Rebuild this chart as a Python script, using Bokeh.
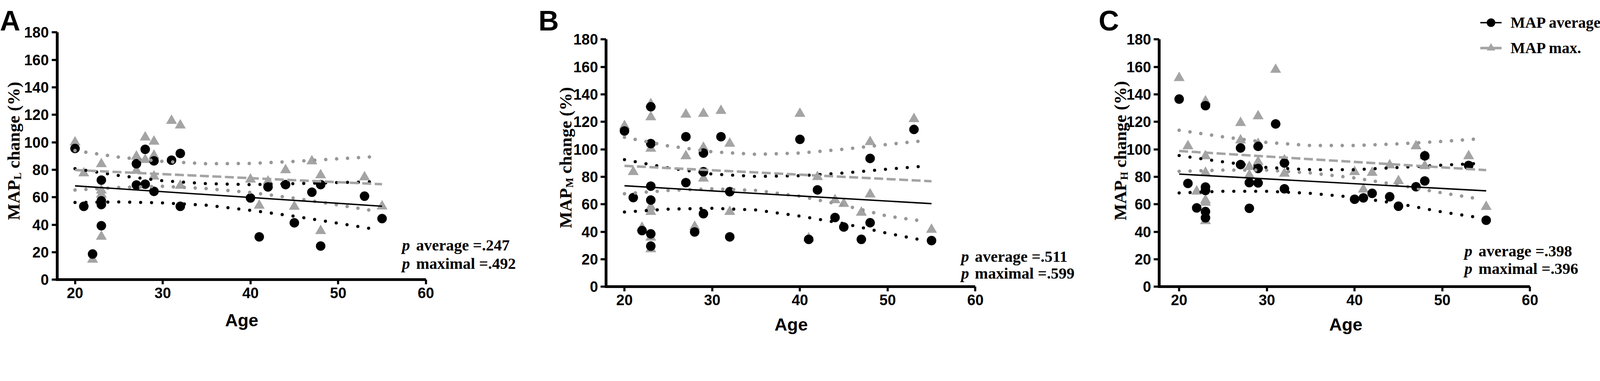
import math
from bokeh.plotting import figure
from bokeh.layouts import row
from bokeh.models import Label, Legend, LegendItem, FixedTicker, Range1d, LinearAxis
from bokeh.embed import file_html
from bokeh.resources import INLINE

# ---------------- data ----------------
x_ticks = [20, 30, 40, 50, 60]
y_ticks = [0, 20, 40, 60, 80, 100, 120, 140, 160, 180]
band_ages = [20, 25, 30, 35, 40, 45, 50, 54]
fit_ages = [20, 55]

# Panel A (MAP_L)
ages_avg_A = [20, 21, 22, 23, 23, 23, 23, 27, 27, 28, 28, 29, 29, 31, 32, 32, 40, 41, 42, 44, 45, 47, 48, 48, 53, 55]
avg_A = [95.5, 53.4, 18.7, 72.5, 57.4, 54.7, 39.3, 84.4, 68.9, 94.9, 69.5, 86.5, 64.3, 87, 91.9, 53.4, 59.5, 31.2, 67.5, 69.2, 41.4, 63.7, 69.2, 24.5, 60.8, 44.5]
ages_max_A = [20, 21, 22, 23, 23, 23, 23, 27, 27, 28, 28, 29, 29, 29, 31, 32, 32, 40, 41, 42, 44, 45, 47, 48, 48, 53, 55]
max_A = [100, 77.5, 14.7, 84.2, 65, 62, 31.4, 89.7, 79.4, 103.6, 87.3, 100.6, 90.3, 75.2, 115.7, 112.4, 68.5, 73, 54, 71.5, 79.8, 53.2, 86.3, 76.1, 35.5, 74.6, 53.4]
fit_avg_A = [68.3, 53.5]
fit_max_A = [79.8, 69.5]
avg_hi_A = [80.8, 75.8, 72, 69.9, 69.2, 69.9, 70.7, 71.3]
avg_lo_A = [56.2, 56.6, 55.9, 54.2, 50.5, 46.2, 41.1, 36.9]
max_hi_A = [94, 89.2, 86.1, 84.4, 84.6, 86.1, 88, 89.5]
max_lo_A = [65.3, 67.1, 68, 66.3, 63.5, 59.3, 54.4, 50.2]

# Panel B (MAP_M)
ages_avg_B = [20, 21, 22, 23, 23, 23, 23, 23, 23, 27, 27, 28, 29, 29, 29, 31, 32, 32, 40, 41, 42, 44, 45, 47, 48, 48, 53, 55]
avg_B = [113.4, 64.9, 40.9, 131, 104.2, 73.2, 63.1, 38.5, 29.6, 109.2, 75.8, 39.9, 97.3, 83.7, 53.2, 109.2, 69.2, 36.3, 107.3, 34.5, 70.5, 50.4, 43.5, 34.5, 93.4, 46.6, 114.5, 33.6]
ages_max_B = [20, 21, 22, 23, 23, 23, 23, 23, 23, 23, 27, 27, 28, 29, 29, 29, 31, 32, 32, 40, 41, 42, 44, 45, 47, 48, 48, 53, 55]
max_B = [117, 83.6, 43, 133, 123.5, 100.6, 58, 54.6, 35.9, 27.4, 125.4, 95.1, 43.7, 126, 101.2, 78.8, 128.1, 104.2, 54.6, 126, 35.3, 80, 63.1, 60.4, 54, 105.4, 67.3, 122.1, 41.6]
fit_avg_B = [73.5, 60.5]
fit_max_B = [88, 76.8]
avg_hi_B = [92.5, 86.5, 82, 80.3, 80.8, 82.8, 85.6, 87.7]
avg_lo_B = [54.4, 56.5, 57.1, 55.9, 51.4, 46, 38.9, 33.9]
max_hi_B = [108.8, 102.5, 98.2, 96.4, 97.3, 100.1, 103.6, 106.2]
max_lo_B = [67.7, 70.1, 71.3, 70.1, 65.9, 59.3, 51.4, 47.8]

# Panel C (MAP_H)
ages_avg_C = [20, 21, 22, 23, 23, 23, 23, 23, 27, 27, 28, 28, 29, 29, 29, 31, 32, 32, 40, 41, 42, 44, 45, 47, 48, 48, 53, 55]
avg_C = [136.6, 75.2, 57.4, 131.8, 72.6, 70.1, 54.7, 50.2, 101, 88.9, 75.8, 57.1, 102.2, 86.1, 75.6, 118.5, 90.1, 71.3, 63.7, 64.7, 68, 65.5, 58.6, 72.8, 95.3, 77, 88.3, 48.4]
ages_max_C = [20, 21, 22, 23, 23, 23, 23, 23, 23, 27, 27, 28, 28, 29, 29, 29, 31, 32, 32, 40, 41, 42, 44, 45, 47, 48, 48, 53, 55]
max_C = [152, 102.4, 69.4, 135, 95.1, 83, 63, 61.3, 47.9, 119.3, 106.6, 87.3, 81.2, 124.2, 104, 90.9, 158, 92.1, 82.4, 83.6, 70.9, 83, 88.5, 77, 102.4, 95.1, 87.9, 95.1, 58.2]
fit_avg_C = [82, 69.8]
fit_max_C = [98.8, 84.9]
avg_hi_C = [95.5, 90.9, 86.8, 85.2, 85.2, 86.8, 88.5, 89.7]
avg_lo_C = [68.3, 69.5, 69.5, 68, 65.1, 60.5, 54.4, 50.5]
max_hi_C = [113.9, 109.1, 105, 102.8, 102.8, 104, 105.8, 107.6]
max_lo_C = [84, 84.9, 84.9, 82.8, 79.2, 74, 68.3, 64.1]

p_texts = {"A": (".247", ".492"), "B": (".511", ".599"), "C": (".398", ".396")}
subs = {"A": "L", "B": "M", "C": "H"}
legend_labels = ["MAP average", "MAP max."]

# ---------------- styling / layout ----------------
K = 0.903          # page px per reference px
SANS = "Liberation Sans"
SERIF = "Liberation Serif"
GRAY = "#a4a4a4"
GRAY_DOT = "#989898"
SX = 24.87   # reference px per year
SY = 3.894   # reference px per percent
HEIGHT = int(975 * K) - 17


def fs(v):
    return f"{v * K:.1f}px"


layout_cfg = {
    "A": dict(ref_l=0, ref_r=1520, axis_x=170, x20=221.0, y0=801, letter_x=8,
              ylab_x=47, ylab_y=632, age_base=916, p_x=1148, rest_x=1188, b1=703, b2=755),
    "B": dict(ref_l=1520, ref_r=3090, axis_x=1727, x20=1778.7, y0=821, letter_x=1535,
              ylab_x=1612, ylab_y=655, age_base=928, p_x=2733, rest_x=2772, b1=735, b2=783),
    "C": dict(ref_l=3090, ref_r=4563, axis_x=3295, x20=3351.2, y0=821, letter_x=3123,
              ylab_x=3184, ylab_y=633, age_base=928, p_x=4160, rest_x=4200, b1=720, b2=770),
}
SUB_W = {"L": 0.667, "M": 0.944, "H": 0.778}

series = {
    "A": (ages_avg_A, avg_A, ages_max_A, max_A, fit_avg_A, fit_max_A, avg_hi_A, avg_lo_A, max_hi_A, max_lo_A),
    "B": (ages_avg_B, avg_B, ages_max_B, max_B, fit_avg_B, fit_max_B, avg_hi_B, avg_lo_B, max_hi_B, max_lo_B),
    "C": (ages_avg_C, avg_C, ages_max_C, max_C, fit_avg_C, fit_max_C, avg_hi_C, avg_lo_C, max_hi_C, max_lo_C),
}


def build(key, with_legend=False):
    cfg = layout_cfg[key]
    (ages_avg, avg, ages_max, mx, f_avg, f_max, a_hi, a_lo, m_hi, m_lo) = series[key]
    left_css = max(8, int(round(cfg["ref_l"] * K)))
    right_css = int(round(cfg["ref_r"] * K)) - (8 if cfg["ref_r"] >= 4563 else 0)
    width = right_css - left_css

    def X(ref_px):
        return 20 + (ref_px - cfg["x20"]) / SX

    def Y(ref_py):
        return (cfg["y0"] - ref_py) / SY

    x_start, x_end = X(left_css / K), X(right_css / K)
    y_end, y_start = Y(8 / K), Y((8 + HEIGHT) / K)

    p = figure(width=width, height=HEIGHT,
               x_range=Range1d(x_start, x_end), y_range=Range1d(y_start, y_end),
               output_backend="svg", toolbar_location=None,
               x_axis_location=None, y_axis_location=None,
               min_border=0, min_border_left=0, min_border_right=0,
               min_border_top=0, min_border_bottom=0)
    p.background_fill_color = "white"
    p.border_fill_color = "white"
    p.outline_line_color = None
    p.grid.visible = False

    xaxis = LinearAxis(fixed_location=0, ticker=FixedTicker(ticks=x_ticks),
                       bounds=(X(cfg["axis_x"] - 4), 60))
    yaxis = LinearAxis(fixed_location=X(cfg["axis_x"]), ticker=FixedTicker(ticks=y_ticks),
                       bounds=(0, 180))
    for ax in (xaxis, yaxis):
        ax.axis_line_width = 8 * K
        ax.axis_line_color = "black"
        ax.major_tick_line_width = 6 * K
        ax.major_tick_line_color = "black"
        ax.major_tick_in = 0
        ax.minor_tick_line_color = None
        ax.major_label_text_font = SANS
        ax.major_label_text_font_style = "bold"
        ax.major_label_text_font_size = fs(42)
        ax.major_label_text_color = "black"
    yaxis.major_tick_out = int(round(15 * K))
    yaxis.major_label_standoff = int(round(8 * K))
    xaxis.major_tick_out = int(round(13 * K))
    xaxis.major_label_standoff = int(round(9 * K))
    p.add_layout(xaxis, "below")
    p.add_layout(yaxis, "left")

    tri = p.scatter(ages_max, mx, marker="triangle", size=31 * K, fill_color=GRAY, line_color=None)
    circ = p.scatter(ages_avg, avg, marker="circle", size=27 * K, fill_color="black", line_color=None)
    dot_gap = str(int(round(31 * K)))
    for band, col, w in ((m_hi, GRAY_DOT, 10), (m_lo, GRAY_DOT, 10), (a_hi, "black", 9), (a_lo, "black", 9)):
        p.line(band_ages, band, line_color=col, line_width=w * K, line_dash="0 " + dot_gap, line_cap="round")
    dash = f"{int(round(26 * K))} {int(round(10 * K))}"
    lmax = p.line(fit_ages, f_max, line_color=GRAY, line_width=7 * K, line_dash=dash)
    lavg = p.line(fit_ages, f_avg, line_color="black", line_width=4 * K)

    def label(x, y, text, font, style, size, align="left", angle=0.0):
        p.add_layout(Label(x=x, y=y, text=text, text_font=font, text_font_style=style,
                           text_font_size=fs(size), text_baseline="alphabetic",
                           text_align=align, angle=angle, text_color="black"))

    # panel letter
    label(X(cfg["letter_x"]), Y(67), key, SANS, "bold", 80)
    # y-axis title: MAP_sub change (%)
    f_main, f_sub = 50, 30
    w_map = 2.277 * f_main
    w_sub = SUB_W[subs[key]] * f_sub
    gap = 0.25 * f_main
    y_s = cfg["ylab_y"]
    label(X(cfg["ylab_x"]), Y(y_s), "MAP", SERIF, "bold", f_main, angle=math.pi / 2)
    label(X(cfg["ylab_x"] + 11), Y(y_s - w_map - 1), subs[key], SERIF, "bold", f_sub, angle=math.pi / 2)
    label(X(cfg["ylab_x"]), Y(y_s - w_map - w_sub - gap), "change (%)", SERIF, "bold", f_main,
          angle=math.pi / 2)
    # x-axis title
    label(39, Y(cfg["age_base"]), "Age", SANS, "bold", 50, align="center")
    # p values
    pa, pm = p_texts[key]
    for base, word, val in ((cfg["b1"], "average", pa), (cfg["b2"], "maximal", pm)):
        label(X(cfg["p_x"]), Y(base), "p", SERIF, "bold italic", 45)
        label(X(cfg["rest_x"]), Y(base), f"{word} ={val}", SERIF, "bold", 45)

    if with_legend:
        loc_x = int(round(4205 * K)) - left_css
        loc_y = int(round(HEIGHT - (178 * K - 8)))
        legend = Legend(items=[LegendItem(label=legend_labels[0], renderers=[lavg, circ]),
                               LegendItem(label=legend_labels[1], renderers=[lmax, tri])],
                        location=(loc_x, loc_y),
                        orientation="vertical", glyph_width=int(62 * K), glyph_height=int(68 * K),
                        label_height=int(68 * K), label_standoff=int(26 * K), spacing=int(5 * K),
                        padding=0, margin=0,
                        border_line_color=None, background_fill_alpha=0,
                        label_text_font=SERIF, label_text_font_style="bold",
                        label_text_font_size=fs(44), label_text_color="black")
        p.add_layout(legend)
    return p


pA = build("A")
pB = build("B")
pC = build("C", with_legend=True)
page = row(pA, pB, pC)
open("out.html", "w").write(file_html(page, INLINE))
